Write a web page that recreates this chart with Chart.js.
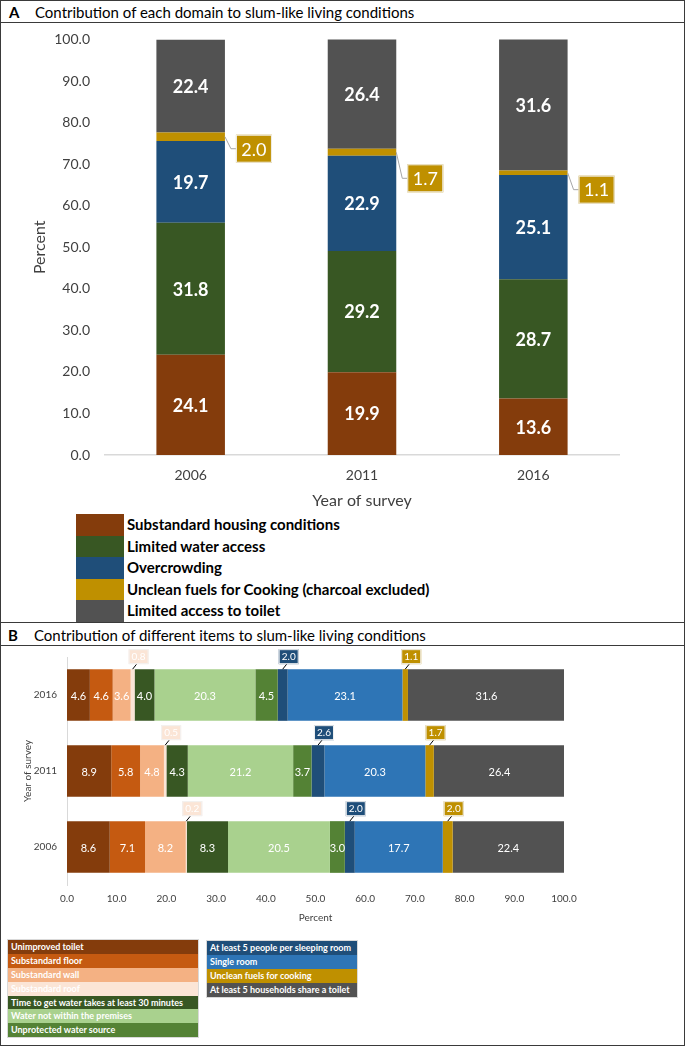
<!DOCTYPE html>
<html>
<head>
<meta charset="utf-8">
<script src="https://cdn.jsdelivr.net/npm/chart.js@4.4.1/dist/chart.umd.min.js"></script>
<style>
body { margin: 0; background: #fff; font-family: Lato, sans-serif; }
#page { position: relative; width: 685px; height: 1046px; overflow: hidden; }
#frame { position: absolute; left: 0; top: 0; width: 685px; height: 1046px; box-sizing: border-box; border: 1.5px solid #3a3a3a; pointer-events: none; }
.hl { position: absolute; left: 0; width: 685px; height: 0; border-top: 1.5px solid #3a3a3a; }
.ttl { position: absolute; font-size: 15px; color: #000; white-space: nowrap; line-height: 20px; }
.ttl b { position: absolute; left: 0; }
.ttl span { position: absolute; left: 26px; }
canvas { position: absolute; left: 0; }
#legA { position: absolute; left: 76px; top: 514px; }
#legA div { height: 21.6px; line-height: 21.6px; font-weight: bold; font-size: 15px; color: #000; white-space: nowrap; }
#legA i { display: inline-block; width: 48px; height: 21.6px; vertical-align: top; margin-right: 3px; }
.legB { position: absolute; outline: 1px solid #d9d9d9; }
.legB div { height: 13.9px; line-height: 13.9px; font-size: 9px; font-weight: bold; color: #fff; padding-left: 3px; white-space: nowrap; }
</style>
</head>
<body>
<div id="page">
  <div class="ttl" style="left:9px;top:2px;width:600px"><b>A</b><span>Contribution of each domain to slum-like living conditions</span></div>
  <div class="hl" style="top:22px"></div>
  <canvas id="chartA" width="685" height="487" style="top:23px"></canvas>
  <div id="legA"></div>
  <div class="hl" style="top:622px"></div>
  <div class="ttl" style="left:8px;top:625px;width:600px"><b>B</b><span>Contribution of different items to slum-like living conditions</span></div>
  <div class="hl" style="top:645px"></div>
  <canvas id="chartB" width="685" height="284" style="top:646px"></canvas>
  <div class="legB" id="legB1" style="left:8px;top:940px;width:190px"></div>
  <div class="legB" id="legB2" style="left:207px;top:941px;width:150px"></div>
  <div id="frame"></div>
</div>
<script>
// Panel A - domains
var yearsA = ['2006', '2011', '2016'];
var housing = [24.1, 19.9, 13.6];
var water = [31.8, 29.2, 28.7];
var overcrowding = [19.7, 22.9, 25.1];
var fuel = [2.0, 1.7, 1.1];
var toilet = [22.4, 26.4, 31.6];
var domainNames = ['Substandard housing conditions', 'Limited water access', 'Overcrowding',
  'Unclean fuels for Cooking (charcoal excluded)', 'Limited access to toilet'];
var domainColors = ['#843C0C', '#385723', '#1F4E79', '#BF9000', '#525252'];

// Panel B - items
var yearsB = ['2016', '2011', '2006'];
var unimprovedToilet = [4.6, 8.9, 8.6];
var substandardFloor = [4.6, 5.8, 7.1];
var substandardWall = [3.6, 4.8, 8.2];
var substandardRoof = [0.8, 0.5, 0.2];
var waterTime = [4.0, 4.3, 8.3];
var waterPremises = [20.3, 21.2, 20.5];
var waterSource = [4.5, 3.7, 3.0];
var sleepingRoom = [2.0, 2.6, 2.0];
var singleRoom = [23.1, 20.3, 17.7];
var fuelB = [1.1, 1.7, 2.0];
var sharedToilet = [31.6, 26.4, 22.4];
var itemNames = ['Unimproved toilet', 'Substandard floor', 'Substandard wall', 'Substandard roof',
  'Time to get water takes at least 30 minutes', 'Water not within the premises', 'Unprotected water source',
  'At least 5 people per sleeping room', 'Single room', 'Unclean fuels for cooking', 'At least 5 households share a toilet'];
var itemColors = ['#843C0C', '#C55A11', '#F4B183', '#FBE5D6', '#385723', '#A9D18E', '#548235',
  '#1F4E79', '#2E75B6', '#BF9000', '#525252'];

Chart.defaults.font.family = 'Lato, sans-serif';

// white value labels in the middle of each segment
var segLabels = {
  id: 'segLabels',
  afterDatasetsDraw: function(chart, args, opts) {
    var ctx = chart.ctx;
    chart.data.datasets.forEach(function(ds, i) {
      if (opts.skip.indexOf(i) >= 0) return;
      chart.getDatasetMeta(i).data.forEach(function(el, j) {
        var p = el.getCenterPoint();
        ctx.save();
        ctx.fillStyle = '#fff';
        ctx.font = opts.font;
        ctx.textAlign = 'center';
        ctx.textBaseline = 'middle';
        ctx.fillText(ds.data[j].toFixed(1), p.x, p.y + 1);
        ctx.restore();
      });
    });
  }
};

// panel A: fuel label boxes to the right of the bars
var sideCallouts = {
  id: 'sideCallouts',
  afterDatasetsDraw: function(chart, args, opts) {
    var ctx = chart.ctx;
    var ds = chart.data.datasets[opts.dataset];
    chart.getDatasetMeta(opts.dataset).data.forEach(function(el, j) {
      var right = el.x + el.width / 2;
      var cy = (el.y + el.base) / 2;
      var by = cy + opts.dy[j];
      var bx = right + 11;
      ctx.save();
      ctx.strokeStyle = '#a6a6a6';
      ctx.lineWidth = 1;
      ctx.beginPath();
      ctx.moveTo(right, cy);
      ctx.lineTo(right + 6, by);
      ctx.lineTo(bx, by);
      ctx.stroke();
      ctx.fillStyle = ds.backgroundColor;
      ctx.fillRect(bx, by - 14, 36, 28);
      ctx.strokeStyle = '#f2f2f2';
      ctx.strokeRect(bx + 0.5, by - 13.5, 35, 27);
      ctx.fillStyle = '#fff';
      ctx.font = '18px Lato, sans-serif';
      ctx.textAlign = 'center';
      ctx.textBaseline = 'middle';
      ctx.fillText(ds.data[j].toFixed(1), bx + 18, by + 1);
      ctx.restore();
    });
  }
};

// panel B: small label boxes above the thin segments
var topCallouts = {
  id: 'topCallouts',
  afterDatasetsDraw: function(chart, args, opts) {
    var ctx = chart.ctx;
    opts.datasets.forEach(function(i) {
      var ds = chart.data.datasets[i];
      chart.getDatasetMeta(i).data.forEach(function(el, j) {
        var cx = (el.x + el.base) / 2;
        var top = el.y - el.height / 2;
        ctx.save();
        ctx.strokeStyle = '#000';
        ctx.lineWidth = 1;
        ctx.beginPath();
        ctx.moveTo(cx, top);
        ctx.lineTo(cx + 4, top - 5);
        ctx.stroke();
        var bx = cx + 6 - 10, by = top - 5 - 15;
        ctx.fillStyle = ds.backgroundColor;
        ctx.fillRect(bx, by, 20, 15);
        ctx.strokeStyle = '#f2f2f2';
        ctx.strokeRect(bx + 0.5, by + 0.5, 19, 14);
        ctx.fillStyle = '#fff';
        ctx.font = '10px Lato, sans-serif';
        ctx.textAlign = 'center';
        ctx.textBaseline = 'middle';
        ctx.fillText(ds.data[j].toFixed(1), bx + 10, by + 8);
        ctx.restore();
      });
    });
  }
};

var seriesA = [housing, water, overcrowding, fuel, toilet];
new Chart(document.getElementById('chartA'), {
  type: 'bar',
  data: {
    labels: yearsA,
    datasets: seriesA.map(function(d, i) {
      return { label: domainNames[i], data: d, backgroundColor: domainColors[i],
        barPercentage: 0.4, categoryPercentage: 1 };
    })
  },
  options: {
    responsive: false,
    animation: false,
    devicePixelRatio: 1,
    layout: { padding: { top: 16.5, right: 66, left: 0, bottom: 0 } },
    plugins: {
      legend: { display: false },
      tooltip: { enabled: false },
      segLabels: { skip: [3], font: 'bold 18px Lato, sans-serif' },
      sideCallouts: { dataset: 3, dy: [12, 26, 17] }
    },
    scales: {
      x: {
        stacked: true,
        grid: { display: false, drawTicks: false },
        border: { color: '#d9d9d9', width: 1.5 },
        ticks: { color: '#404040', font: { size: 14 }, padding: 12 },
        title: { display: true, text: 'Year of survey', color: '#404040', font: { size: 16 }, padding: 0 },
        afterFit: function(s) { s.height = 55; }
      },
      y: {
        stacked: true,
        min: 0,
        max: 100,
        grid: { display: false, drawTicks: false },
        border: { display: false },
        ticks: { stepSize: 10, color: '#404040', font: { size: 14 }, padding: 15,
          callback: function(v) { return v.toFixed(1); } },
        title: { display: true, text: 'Percent', color: '#404040', font: { size: 16 }, padding: { top: 30 } },
        afterFit: function(s) { s.width = 105; s.paddingTop = 0; s.paddingBottom = 0; }
      }
    }
  },
  plugins: [segLabels, sideCallouts]
});

var seriesB = [unimprovedToilet, substandardFloor, substandardWall, substandardRoof, waterTime,
  waterPremises, waterSource, sleepingRoom, singleRoom, fuelB, sharedToilet];
new Chart(document.getElementById('chartB'), {
  type: 'bar',
  data: {
    labels: yearsB,
    datasets: seriesB.map(function(d, i) {
      return { label: itemNames[i], data: d, backgroundColor: itemColors[i],
        barPercentage: 0.68, categoryPercentage: 1 };
    })
  },
  options: {
    indexAxis: 'y',
    responsive: false,
    animation: false,
    devicePixelRatio: 1,
    layout: { padding: { top: 11, right: 121, left: 0, bottom: 0 } },
    plugins: {
      legend: { display: false },
      tooltip: { enabled: false },
      segLabels: { skip: [3, 7, 9], font: '11px Lato, sans-serif' },
      topCallouts: { datasets: [3, 7, 9] }
    },
    scales: {
      x: {
        stacked: true,
        min: 0,
        max: 100,
        grid: { display: false, drawTicks: false },
        border: { display: false },
        ticks: { stepSize: 10, color: '#404040', font: { size: 10 }, padding: 8, maxRotation: 0,
          callback: function(v) { return v.toFixed(1); } },
        title: { display: true, text: 'Percent', color: '#404040', font: { size: 10 }, padding: { bottom: 6 } },
        afterFit: function(s) { s.height = 45; }
      },
      y: {
        stacked: true,
        grid: { display: false, drawTicks: false },
        border: { color: '#d9d9d9', width: 1 },
        ticks: { color: '#404040', font: { size: 10 }, padding: 10 },
        title: { display: true, text: 'Year of survey', color: '#404040', font: { size: 10 }, padding: { top: 22 } },
        afterFit: function(s) { s.width = 67; s.paddingTop = 0; s.paddingBottom = 0; }
      }
    }
  },
  plugins: [segLabels, topCallouts]
});

// legends
var legA = document.getElementById('legA');
domainNames.forEach(function(n, i) {
  var row = document.createElement('div');
  row.innerHTML = '<i style="background:' + domainColors[i] + '"></i>' + n;
  legA.appendChild(row);
});
function legendRows(el, from, to) {
  for (var i = from; i < to; i++) {
    var row = document.createElement('div');
    row.style.background = itemColors[i];
    row.textContent = itemNames[i];
    el.appendChild(row);
  }
}
legendRows(document.getElementById('legB1'), 0, 7);
legendRows(document.getElementById('legB2'), 7, 11);
</script>
</body>
</html>
